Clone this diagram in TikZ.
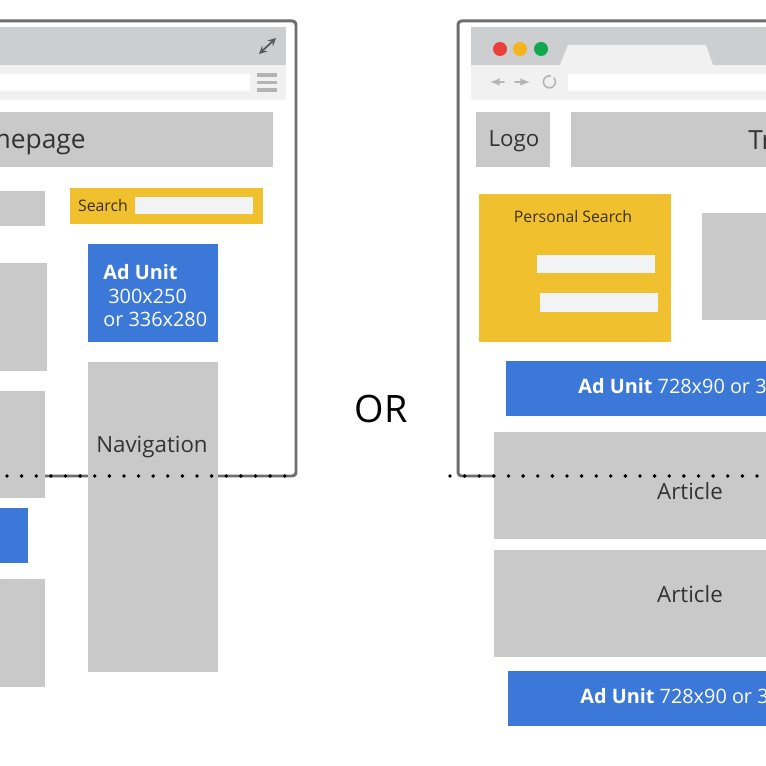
\documentclass[tikz,border=0pt]{standalone}
\usepackage{fontspec}
\setmainfont{Open Sans}
\definecolor{barGrey}{HTML}{CDCECF}
\definecolor{stripGrey}{HTML}{F1F1F1}
\definecolor{boxGrey}{HTML}{C9C9C9}
\definecolor{iconGrey}{HTML}{B4B4B4}
\definecolor{frameGrey}{HTML}{6E6E6E}
\definecolor{adBlue}{HTML}{3B78D8}
\definecolor{searchYellow}{HTML}{F0C02F}
\definecolor{inputWhite}{HTML}{F2F3F4}

\begin{document}
\begin{tikzpicture}[
    x=0.02cm,y=-0.02cm,
    >=latex,line join=round,line cap=round,
    frame/.style={draw=frameGrey,line width=1.7pt,rounded corners=2pt},
    bar/.style={fill=barGrey},
    strip/.style={fill=stripGrey},
    box/.style={fill=boxGrey},
    ad/.style={fill=adBlue},
    search/.style={fill=searchYellow},
    input/.style={fill=inputWhite},
    caption/.style={text=black!80,font=\fontsize{12.7}{14}\selectfont,inner sep=0pt},
    smallcap/.style={text=black!75!searchYellow,font=\fontsize{9}{10}\selectfont,inner sep=0pt},
    adtext/.style={text=white,font=\fontsize{11.3}{13}\selectfont,inner sep=0pt},
    icon/.style={draw=iconGrey,line width=0.9pt},
    fold/.style={line width=2.2pt,line cap=round,dash pattern=on 0pt off 8.32pt}
  ]
    \clip (0,0) rectangle (766,766);
    \fill[white] (0,0) rectangle (766,766);

    % left window
    \draw[frame] (-10,21) -- (296,21) -- (296,476) -- (-10,476);
    \fill[bar] (-10,27) rectangle (286,65);
    \fill[strip] (-10,65) rectangle (286,100);
    \fill[white] (-10,74) rectangle (250,91);
    \draw[draw=black!65,line width=1pt,<->,>=stealth] (259,54) -- (276,38);
    \foreach \y in {75,82.5,90} {
        \draw[icon,line width=1.9pt,line cap=butt] (257,\y) -- (277,\y);
    }
    \fill[box] (-10,112) rectangle (273,167);
    \node[anchor=east,inner sep=0pt,text=black!80,font=\fontsize{15}{18}\selectfont] (home) at (86,142) {Homepage};
    \fill[box] (-10,191) rectangle (45,226);
    \fill[search] (70,188) rectangle (263,224);
    \fill[input] (135,197) rectangle (253,214);
    \node[smallcap] (searchlabel) at (103,206) {Search};
    \fill[ad] (88,244) rectangle (218,342);
    \node[adtext,anchor=west] (adhead) at (103,272) {\textbf{Ad Unit}};
    \node[adtext,anchor=west] (adsize) at (108,296) {300x250};
    \node[adtext,anchor=west] (adalt) at (103,319) {or 336x280};
    \fill[box] (88,362) rectangle (218,672);
    \node[caption] (nav) at (152,447) {Navigation};
    \fill[box] (-10,263) rectangle (47,371);
    \fill[box] (-10,391) rectangle (45,498);
    \fill[ad] (-10,508) rectangle (28,563);
    \fill[box] (-10,579) rectangle (45,687);

    % or
    \node[inner sep=0pt,font=\fontsize{21.5}{24}\selectfont] (or) at (381,409) {OR};

    % right window
    \draw[frame] (776,21) -- (458,21) -- (458,476) -- (776,476);
    \fill[bar] (471,27) rectangle (776,65);
    \fill[strip] (471,65) rectangle (776,100);
    \fill[strip] (560,65) -- (568,45) -- (706,45) -- (713,65) -- cycle;
    \foreach \x/\c in {500/E8403A,520/F5B41E,541/12A84E} {
        \definecolor{dotcol}{HTML}{\c}
        \fill[dotcol] (\x,49) circle (7);
    }
    \fill[white] (568,74) rectangle (776,91);
    \draw[icon,->] (504,82) -- (490,82);
    \draw[icon,->] (515,82) -- (530,82);
    \draw[icon] (554,78) arc (-40:280:6);
    \fill[box] (476,112) rectangle (550,167);
    \node[caption] (logo) at (514,141) {Logo};
    \fill[box] (571,112) rectangle (776,167);
    \node[caption,anchor=west,font=\fontsize{15}{18}\selectfont] (top) at (748,140) {Tr};
    \fill[search] (479,194) rectangle (671,342);
    \node[smallcap] (personal) at (573,217) {Personal Search};
    \fill[input] (537,255) rectangle (655,273);
    \fill[input] (540,293) rectangle (658,312);
    \fill[box] (702,213) rectangle (776,320);
    \fill[ad] (506,361) rectangle (776,416);
    \node[adtext,anchor=west] (adtop) at (578,386) {\textbf{Ad Unit} 728x90 or 3};
    \fill[box] (494,432) rectangle (776,539);
    \node[caption] (articleone) at (690,491) {Article};
    \fill[box] (494,550) rectangle (776,657);
    \node[caption] (articletwo) at (690,594) {Article};
    \fill[ad] (508,671) rectangle (776,726);
    \node[adtext,anchor=west] (adbottom) at (580,696) {\textbf{Ad Unit} 728x90 or 3};

    % fold
    \draw[fold] (7,476) -- (296,476);
    \draw[fold] (450,476) -- (766,476);
\end{tikzpicture}
\end{document}
